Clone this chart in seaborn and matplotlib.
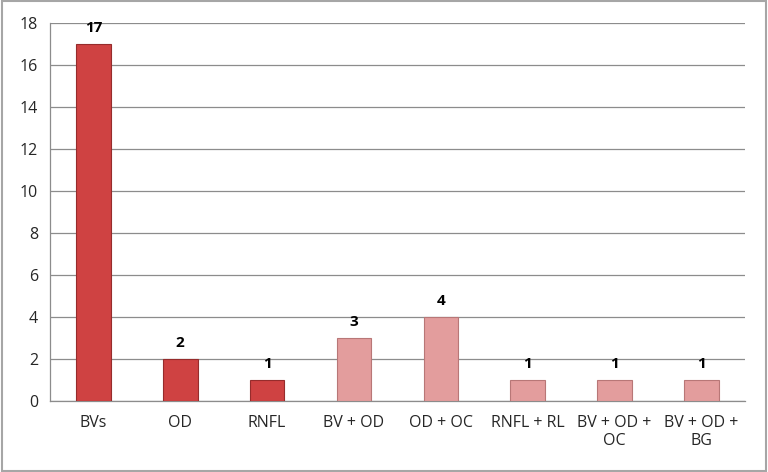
import matplotlib.pyplot as plt
import matplotlib.patches as mpatches
import numpy as np
import pandas as pd
import seaborn as sns

categories = ["BVs", "OD", "RNFL", "BV + OD", "OD + OC", "RNFL + RL",
              "BV + OD +\nOC", "BV + OD +\nBG"]
counts = [17, 2, 1, 3, 4, 1, 1, 1]
group = ["single", "single", "single", "combo", "combo", "combo", "combo", "combo"]

df = pd.DataFrame({"feature": categories, "count": counts, "group": group})

sns.set_style("white")
plt.rcParams["font.family"] = ["Open Sans", "DejaVu Sans"]

fig = plt.figure(figsize=(7.68, 4.72), dpi=100)
ax = fig.add_axes([0.065, 0.150, 0.905, 0.801])

palette = {"single": "#CF4242", "combo": "#E39D9D"}
sns.barplot(data=df, x="feature", y="count", hue="group", palette=palette,
            saturation=1, dodge=False, width=0.4, legend=False, ax=ax, zorder=3)
edge = {"single": "#962C2C", "combo": "#B87777"}
for patch, g in zip(ax.patches, df["group"]):
    patch.set_edgecolor(edge[g])
    patch.set_linewidth(0.8)

for i, v in enumerate(counts):
    ax.text(i, v + 0.45, str(v), ha="center", va="bottom",
            fontsize=11, fontweight="bold", color="black")

ax.set_ylim(0, 18)
ax.set_xlim(-0.5, len(categories) - 0.5)
ax.set_yticks(range(0, 19, 2))
ax.yaxis.grid(True, color="#8C8C8C", linewidth=0.9, zorder=0)
ax.set_axisbelow(True)
ax.set_xlabel("")
ax.set_ylabel("")

ax.set_xticks(np.arange(len(categories)))
ax.set_xticklabels(categories, fontsize=11.5)
ax.set_xticks(np.arange(-0.5, len(categories) + 0.5, 1), minor=True)
ax.tick_params(axis="x", which="major", length=0, pad=10)
ax.tick_params(axis="x", which="minor", length=5, color="#8C8C8C", direction="out")
ax.tick_params(axis="y", length=5, color="#8C8C8C", direction="out", labelsize=11.5)

for s in ["top", "right"]:
    ax.spines[s].set_visible(False)
for s in ["left", "bottom"]:
    ax.spines[s].set_color("#8C8C8C")
    ax.spines[s].set_linewidth(0.9)

border = mpatches.Rectangle((0.002, 0.003), 0.995, 0.994, transform=fig.transFigure,
                            fill=False, edgecolor="#A6A6A6", linewidth=1.5)
fig.patches.append(border)

fig.savefig("out.png", dpi=100)
